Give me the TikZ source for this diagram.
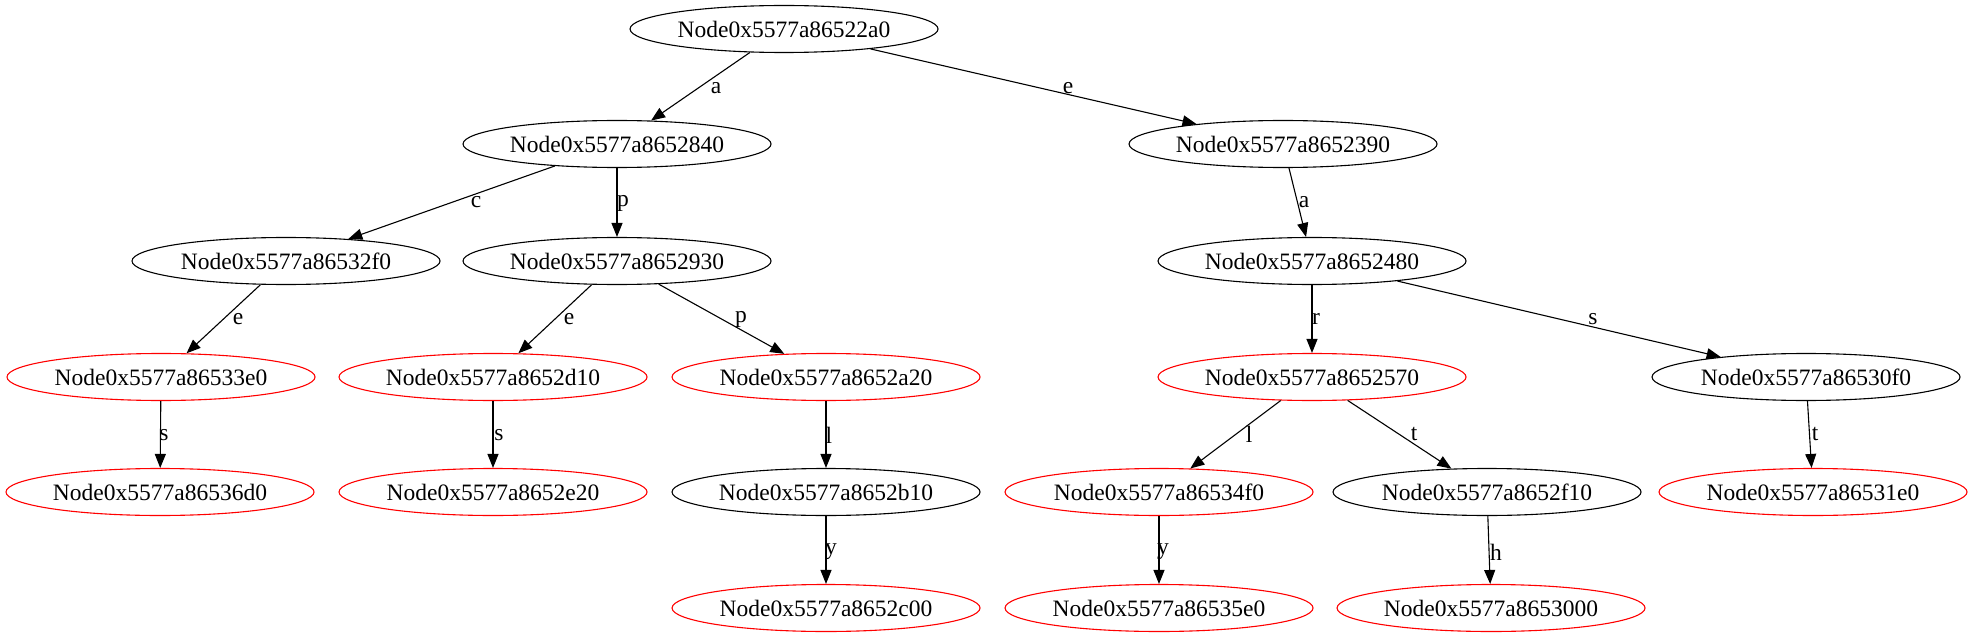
\documentclass[tikz,border=0pt]{standalone}
\usepackage{fontspec}
\setmainfont{Liberation Serif}
\usetikzlibrary{shapes.geometric,arrows.meta}
\tikzset{
  tnode/.style={draw, ellipse, line width=1.1pt, minimum width=308pt, minimum height=47pt, inner sep=0pt, font=\fontsize{23.5}{26}\selectfont},
  rnode/.style={tnode, draw=red},
  edge/.style={draw, line width=1.1pt, -{Triangle[length=14pt,width=11pt]}},
  lbl/.style={inner sep=0pt, font=\fontsize{23.5}{26}\selectfont}
}
\begin{document}
\begin{tikzpicture}[x=1pt,y=-1pt]
\useasboundingbox (0,0) rectangle (1975,639);
\node[tnode] (root) at (784,29) {Node0x5577a86522a0};
\node[tnode] (n2840) at (617,144) {Node0x5577a8652840};
\node[tnode] (n2390) at (1283,144) {Node0x5577a8652390};
\node[tnode] (n32f0) at (286,261) {Node0x5577a86532f0};
\node[tnode] (n2930) at (617,261) {Node0x5577a8652930};
\node[tnode] (n2480) at (1312,261) {Node0x5577a8652480};
\node[rnode] (n33e0) at (161,377) {Node0x5577a86533e0};
\node[rnode] (n2d10) at (493,377) {Node0x5577a8652d10};
\node[rnode] (n2a20) at (826,377) {Node0x5577a8652a20};
\node[rnode] (n2570) at (1312,377) {Node0x5577a8652570};
\node[tnode] (n30f0) at (1806,377) {Node0x5577a86530f0};
\node[rnode] (n36d0) at (160,492) {Node0x5577a86536d0};
\node[rnode] (n2e20) at (493,492) {Node0x5577a8652e20};
\node[tnode] (n2b10) at (826,492) {Node0x5577a8652b10};
\node[rnode] (n34f0) at (1159,492) {Node0x5577a86534f0};
\node[tnode] (n2f10) at (1487,492) {Node0x5577a8652f10};
\node[rnode] (n31e0) at (1813,492) {Node0x5577a86531e0};
\node[rnode] (nc00) at (826,608) {Node0x5577a8652c00};
\node[rnode] (n35e0) at (1159,608) {Node0x5577a86535e0};
\node[rnode] (n3000) at (1491,608) {Node0x5577a8653000};

\draw[edge] (root) -- (n2840) node[lbl, at={(716,88)}] {a};
\draw[edge] (root) -- (n2390) node[lbl, at={(1068,88)}] {e};
\draw[edge] (n2840) -- (n32f0) node[lbl, at={(476,202)}] {c};
\draw[edge] (n2840) -- (n2930) node[lbl, at={(623,203)}] {p};
\draw[edge] (n2390) -- (n2480) node[lbl, at={(1304,202)}] {a};
\draw[edge] (n32f0) -- (n33e0) node[lbl, at={(238,319)}] {e};
\draw[edge] (n2930) -- (n2d10) node[lbl, at={(569,319)}] {e};
\draw[edge] (n2930) -- (n2a20) node[lbl, at={(741,319)}] {p};
\draw[edge] (n2480) -- (n2570) node[lbl, at={(1316,319)}] {r};
\draw[edge] (n2480) -- (n30f0) node[lbl, at={(1593,319)}] {s};
\draw[edge] (n33e0) -- (n36d0) node[lbl, at={(164,435)}] {s};
\draw[edge] (n2d10) -- (n2e20) node[lbl, at={(499,435)}] {s};
\draw[edge] (n2a20) -- (n2b10) node[lbl, at={(829,435)}] {l};
\draw[edge] (n2570) -- (n34f0) node[lbl, at={(1249,434)}] {l};
\draw[edge] (n2570) -- (n2f10) node[lbl, at={(1414,434)}] {t};
\draw[edge] (n30f0) -- (n31e0) node[lbl, at={(1815,434)}] {t};
\draw[edge] (n2b10) -- (nc00) node[lbl, at={(831,552)}] {y};
\draw[edge] (n34f0) -- (n35e0) node[lbl, at={(1163,552)}] {y};
\draw[edge] (n2f10) -- (n3000) node[lbl, at={(1496,552)}] {h};
\end{tikzpicture}
\end{document}
